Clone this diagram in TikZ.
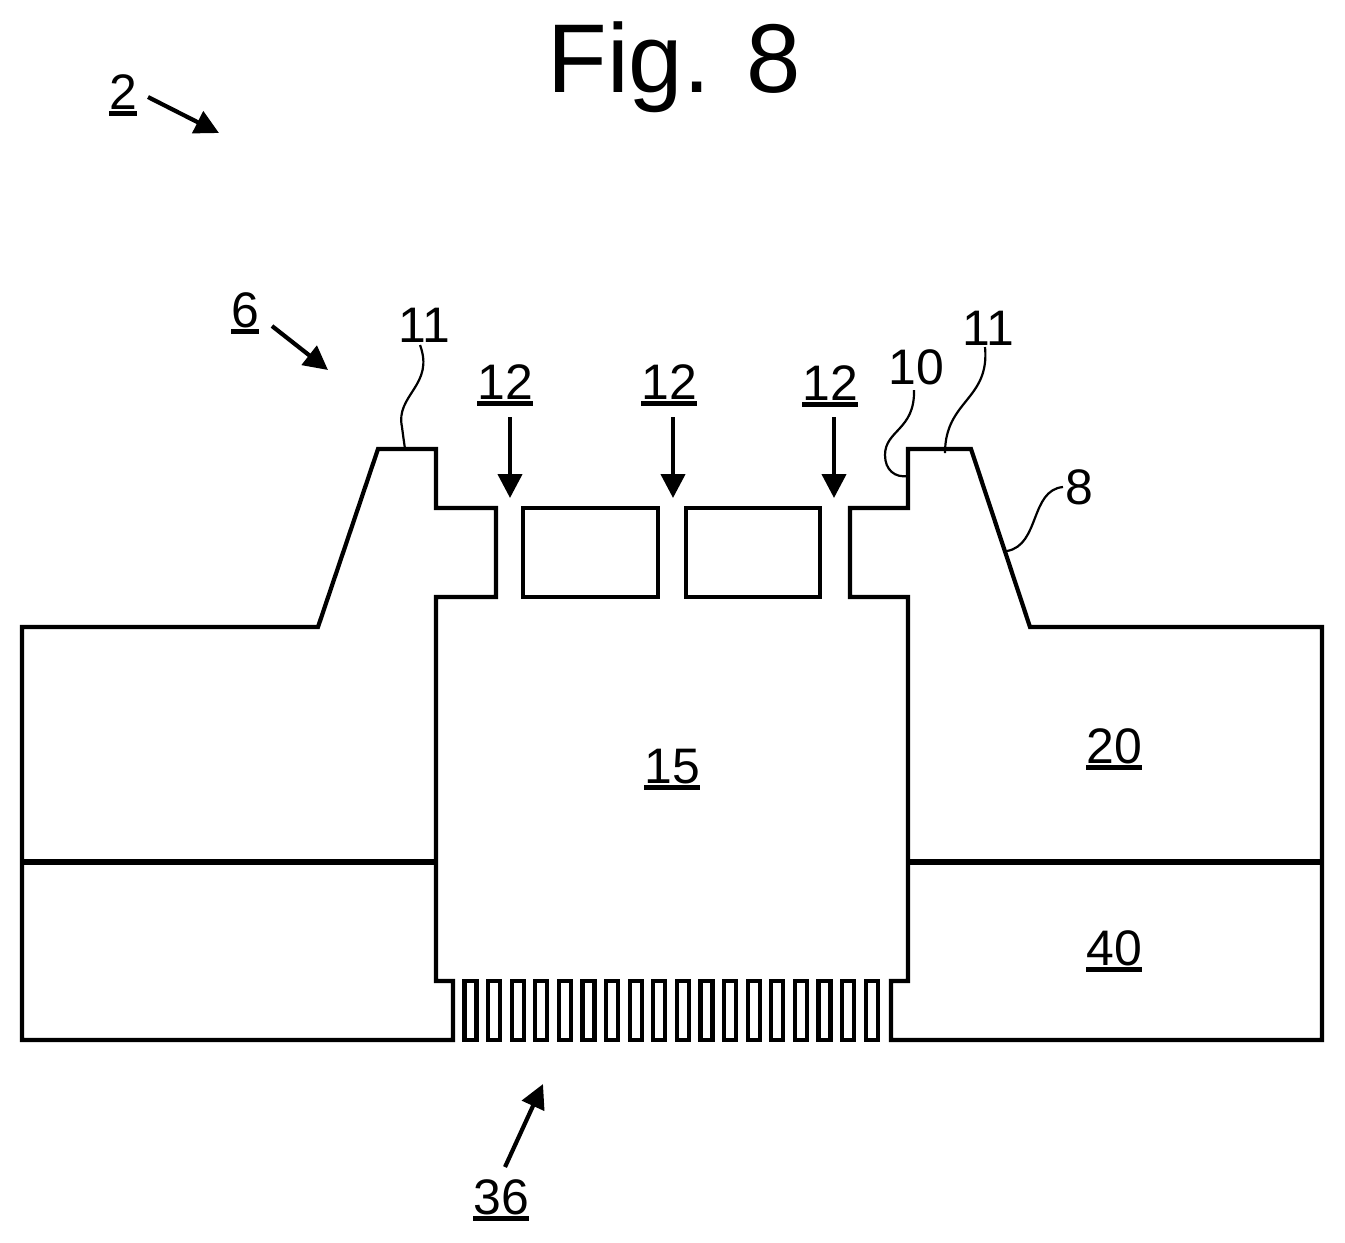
\documentclass[tikz,border=0pt]{standalone}
\usepackage{fontspec}
\setmainfont{Liberation Sans}
\usetikzlibrary{arrows.meta}
\newcommand{\ulnum}[1]{\setbox0\hbox{#1}\rlap{\rule[-0.7mm]{\wd0}{0.5mm}}\box0}
\tikzset{
wall/.style={line width=0.42mm, line join=miter}, % the body outline
layer/.style={line width=0.55mm}, % line between the two layers
lead/.style={line width=0.22mm}, % wavy reference lines
pointer/.style={line width=0.42mm, -{Triangle[length=2.4mm,width=2.4mm]}}, % the straight arrows
reflabel/.style={inner sep=0pt, anchor=base, font=\fontsize{14.2pt}{16pt}\selectfont},
titlelabel/.style={inner sep=0pt, anchor=base, font=\fontsize{27.8pt}{30pt}\selectfont},
}

\begin{document}
\begin{tikzpicture}[x=0.1mm, y=-0.1mm]
        \useasboundingbox (0,0) rectangle (1345,1242);

        \node[titlelabel] (title) at (674,92) {Fig. 8};
        \node[reflabel] (device) at (123,109) {\ulnum{2}};
        \node[reflabel] (membrane) at (245,327) {\ulnum{6}};
        \node[reflabel] (rimleft) at (424,342) {11};
        \node[reflabel] (gapa) at (505,399) {\ulnum{12}};
        \node[reflabel] (gapb) at (669,399) {\ulnum{12}};
        \node[reflabel] (gapc) at (830,400) {\ulnum{12}};
        \node[reflabel] (inner) at (916,384) {10};
        \node[reflabel] (rimright) at (988,345) {11};
        \node[reflabel] (slope) at (1079,504) {8};
        \node[reflabel] (cavity) at (672,783) {\ulnum{15}};
        \node[reflabel] (body) at (1114,763) {\ulnum{20}};
        \node[reflabel] (base) at (1114,965) {\ulnum{40}};
        \node[reflabel] (filter) at (501,1214) {\ulnum{36}};

        % outline, left side then right side
        \draw[wall] (22,862) -- (22,627) -- (318,627) -- (378,449) -- (436,449) -- (436,508)
          -- (496,508) -- (496,597) -- (436,597) -- (436,981) -- (453,981) -- (453,1040)
          -- (22,1040) -- cycle;
        \draw[wall] (1322,862) -- (1322,627) -- (1030,627) -- (971,449) -- (908,449) -- (908,508)
          -- (850,508) -- (850,597) -- (908,597) -- (908,981) -- (891,981) -- (891,1040)
          -- (1322,1040) -- cycle;
        \draw[layer] (22,862) -- (436,862);
        \draw[layer] (908,862) -- (1322,862);

        % the two plates
        \draw[wall] (523,508) rectangle (658,597);
        \draw[wall] (686,508) rectangle (820,597);

        % filter teeth
        \foreach \i in {0,...,17}
          \draw[wall] ({464.4+23.6*\i},981) rectangle +(12,59);

        % arrows
        \coordinate (deviceA) at (148,97);
        \coordinate (deviceB) at (219,133);
        \coordinate (membraneA) at (272,326);
        \coordinate (membraneB) at (328,370);
        \coordinate (filterA) at (505,1167);
        \coordinate (filterB) at (543,1084);
        \coordinate (gapaA) at (510,417);
        \coordinate (gapaB) at (510,498);
        \coordinate (gapbA) at (673,417);
        \coordinate (gapbB) at (673,498);
        \coordinate (gapcA) at (834,417);
        \coordinate (gapcB) at (834,498);
        \draw[pointer] (deviceA) -- (deviceB);
        \draw[pointer] (membraneA) -- (membraneB);
        \draw[pointer] (filterA) -- (filterB);
        \draw[pointer] (gapaA) -- (gapaB);
        \draw[pointer] (gapbA) -- (gapbB);
        \draw[pointer] (gapcA) -- (gapcB);

        % wavy leads
        \coordinate (rimleftA) at (420,345);
        \coordinate (rimleftB) at (405,449);
        \coordinate (innerA) at (914,390);
        \coordinate (innerB) at (908,476);
        \coordinate (rimrightA) at (985,347);
        \coordinate (rimrightB) at (945,453);
        \coordinate (slopeA) at (1063,487);
        \coordinate (slopeB) at (1007,551);
        \draw[lead] (rimleftA) .. controls (435,385) and (395,395) .. (402,427) .. controls (403,435) and (404,442) .. (rimleftB);
        \draw[lead] (innerA) .. controls (915,430) and (885,430) .. (885,455) .. controls (885,470) and (895,478) .. (innerB);
        \draw[lead] (rimrightA) .. controls (990,400) and (945,400) .. (rimrightB);
        \draw[lead] (slopeA) .. controls (1030,490) and (1040,545) .. (slopeB);
      \end{tikzpicture}
\end{document}
